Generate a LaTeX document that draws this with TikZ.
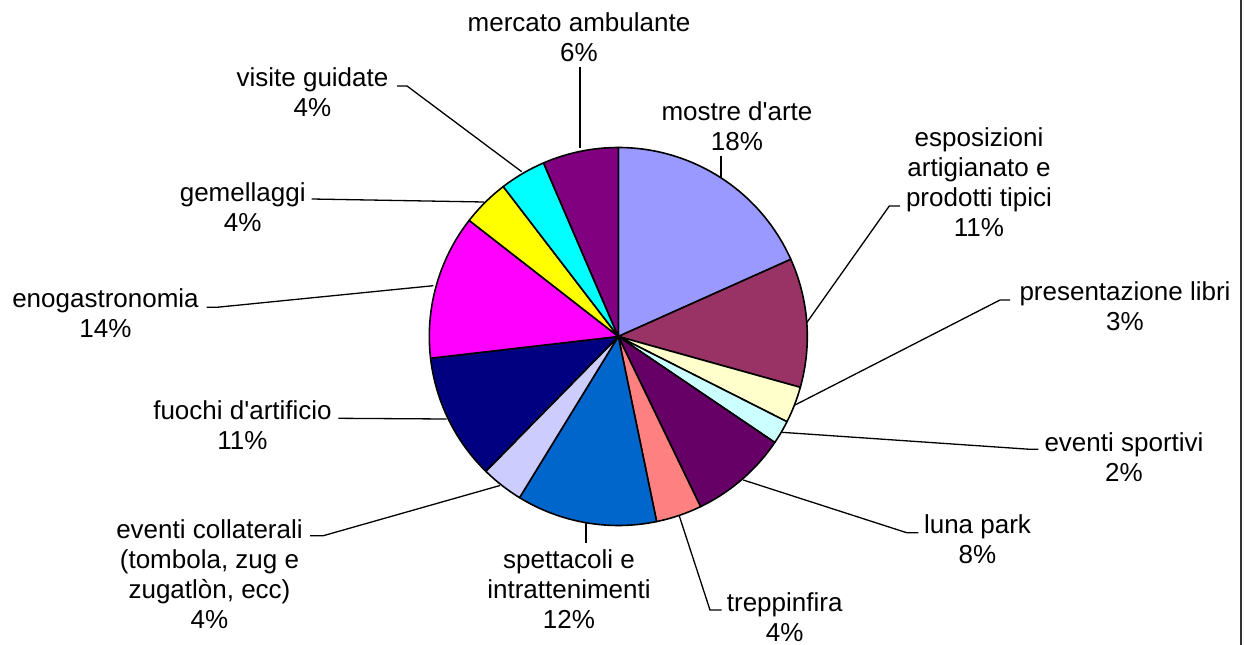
\documentclass[tikz,border=0pt]{standalone}
\usepackage{fontspec}
\setmainfont{Liberation Sans}
\begin{document}
\begin{tikzpicture}[x=1pt,y=-1pt,
  slice/.style={draw=black,line width=1.6pt,line join=round},
  leader/.style={draw=black,line width=1.3pt},
  lbl/.style={align=center,inner sep=0pt,font=\fontsize{26}{30}\selectfont}]
\useasboundingbox (0,0) rectangle (1245,645);
\fill[white] (0,0) rectangle (1245,645);
\draw[line width=2pt,color={rgb,255:red,51;green,51;blue,51}] (1241,0) -- (1241,645);
% pie
\definecolor{cMostre}{HTML}{9999FF}
\definecolor{cEspo}{HTML}{993366}
\definecolor{cPres}{HTML}{FFFFCC}
\definecolor{cSport}{HTML}{CCFFFF}
\definecolor{cLuna}{HTML}{660066}
\definecolor{cTrepp}{HTML}{FF8080}
\definecolor{cSpett}{HTML}{0066CC}
\definecolor{cColl}{HTML}{CCCCFF}
\definecolor{cFuochi}{HTML}{000080}
\definecolor{cEno}{HTML}{FF00FF}
\definecolor{cGem}{HTML}{FFFF00}
\definecolor{cVis}{HTML}{00FFFF}
\definecolor{cMerc}{HTML}{800080}
\begin{scope}[shift={(618.3,336.5)},yscale=-1]
\foreach \a/\b/\c in {90/24.1/cMostre,24.1/-15.6/cEspo,-15.6/-26.8/cPres,-26.8/-34.1/cSport,
  -34.1/-64.2/cLuna,-64.2/-78.3/cTrepp,-78.3/-121.5/cSpett,-121.5/-134.5/cColl,
  -134.5/-173.4/cFuochi,-173.4/-217.9/cEno,-217.9/-232.5/cGem,-232.5/-246.7/cVis,-246.7/-270/cMerc}
  \filldraw[slice,fill=\c] (0,0) -- (\a:189) arc[start angle=\a,end angle=\b,radius=189] -- cycle;
\end{scope}
% labels
\node[lbl] (merc) at (579,37) {mercato ambulante\\6\%};
\node[lbl] (most) at (737,126.7) {mostre d\textquotesingle arte\\18\%};
\node[lbl] (espo) at (979,181.7) {esposizioni\\artigianato e\\prodotti tipici\\11\%};
\node[lbl] (pres) at (1125,306) {presentazione libri\\3\%};
\node[lbl] (sport) at (1124,456.7) {eventi sportivi\\2\%};
\node[lbl] (luna) at (977.5,539) {luna park\\8\%};
\node[lbl] (trepp) at (784.7,616.7) {treppinfira\\4\%};
\node[lbl] (spett) at (569,589) {spettacoli e\\intrattenimenti\\12\%};
\node[lbl] (coll) at (209.5,574) {eventi collaterali\\(tombola, zug e\\zugatlòn, ecc)\\4\%};
\node[lbl] (fuo) at (242.5,425) {fuochi d\textquotesingle artificio\\11\%};
\node[lbl] (eno) at (105.5,313) {enogastronomia\\14\%};
\node[lbl] (gem) at (242.7,206.7) {gemellaggi\\4\%};
\node[lbl] (vis) at (312.5,92.3) {visite guidate\\4\%};
% leader coordinates
\coordinate (mercA) at (580,67);   \coordinate (mercE) at (580,148);
\coordinate (mostA) at (721,156);  \coordinate (mostE) at (721,177.5);
\coordinate (visA) at (397,86);    \coordinate (visB) at (407,86);    \coordinate (visE) at (521.7,171.7);
\coordinate (gemA) at (311.7,199); \coordinate (gemE) at (484,202);
\coordinate (enoA) at (206.7,307.3); \coordinate (enoB) at (216.7,307.3); \coordinate (enoE) at (433.3,285.7);
\coordinate (fuoA) at (338.3,418.3); \coordinate (fuoE) at (446.7,419);
\coordinate (collA) at (310,535.7); \coordinate (collB) at (323.3,535.7); \coordinate (collE) at (500,485.5);
\coordinate (spettA) at (586,542.7); \coordinate (spettE) at (586,522.7);
\coordinate (treppA) at (721.7,610); \coordinate (treppB) at (710,610); \coordinate (treppE) at (679.3,516);
\coordinate (lunaA) at (918.3,532.7); \coordinate (lunaB) at (906.7,532.7); \coordinate (lunaE) at (743.3,480);
\coordinate (sportA) at (1038.3,449.3); \coordinate (sportB) at (1030,449.3); \coordinate (sportE) at (781.7,432.3);
\coordinate (presA) at (1010,300); \coordinate (presB) at (1000,300); \coordinate (presE) at (795,405);
\coordinate (espoA) at (900,206); \coordinate (espoB) at (889.3,206); \coordinate (espoE) at (806.7,322.7);
% leaders
\draw[leader] (mercA) -- (mercE);
\draw[leader] (mostA) -- (mostE);
\draw[leader] (visA) -- (visB) -- (visE);
\draw[leader] (gemA) -- (gemE);
\draw[leader] (enoA) -- (enoB) -- (enoE);
\draw[leader] (fuoA) -- (fuoE);
\draw[leader] (collA) -- (collB) -- (collE);
\draw[leader] (spettA) -- (spettE);
\draw[leader] (treppA) -- (treppB) -- (treppE);
\draw[leader] (lunaA) -- (lunaB) -- (lunaE);
\draw[leader] (sportA) -- (sportB) -- (sportE);
\draw[leader] (presA) -- (presB) -- (presE);
\draw[leader] (espoA) -- (espoB) -- (espoE);
\end{tikzpicture}
\end{document}
